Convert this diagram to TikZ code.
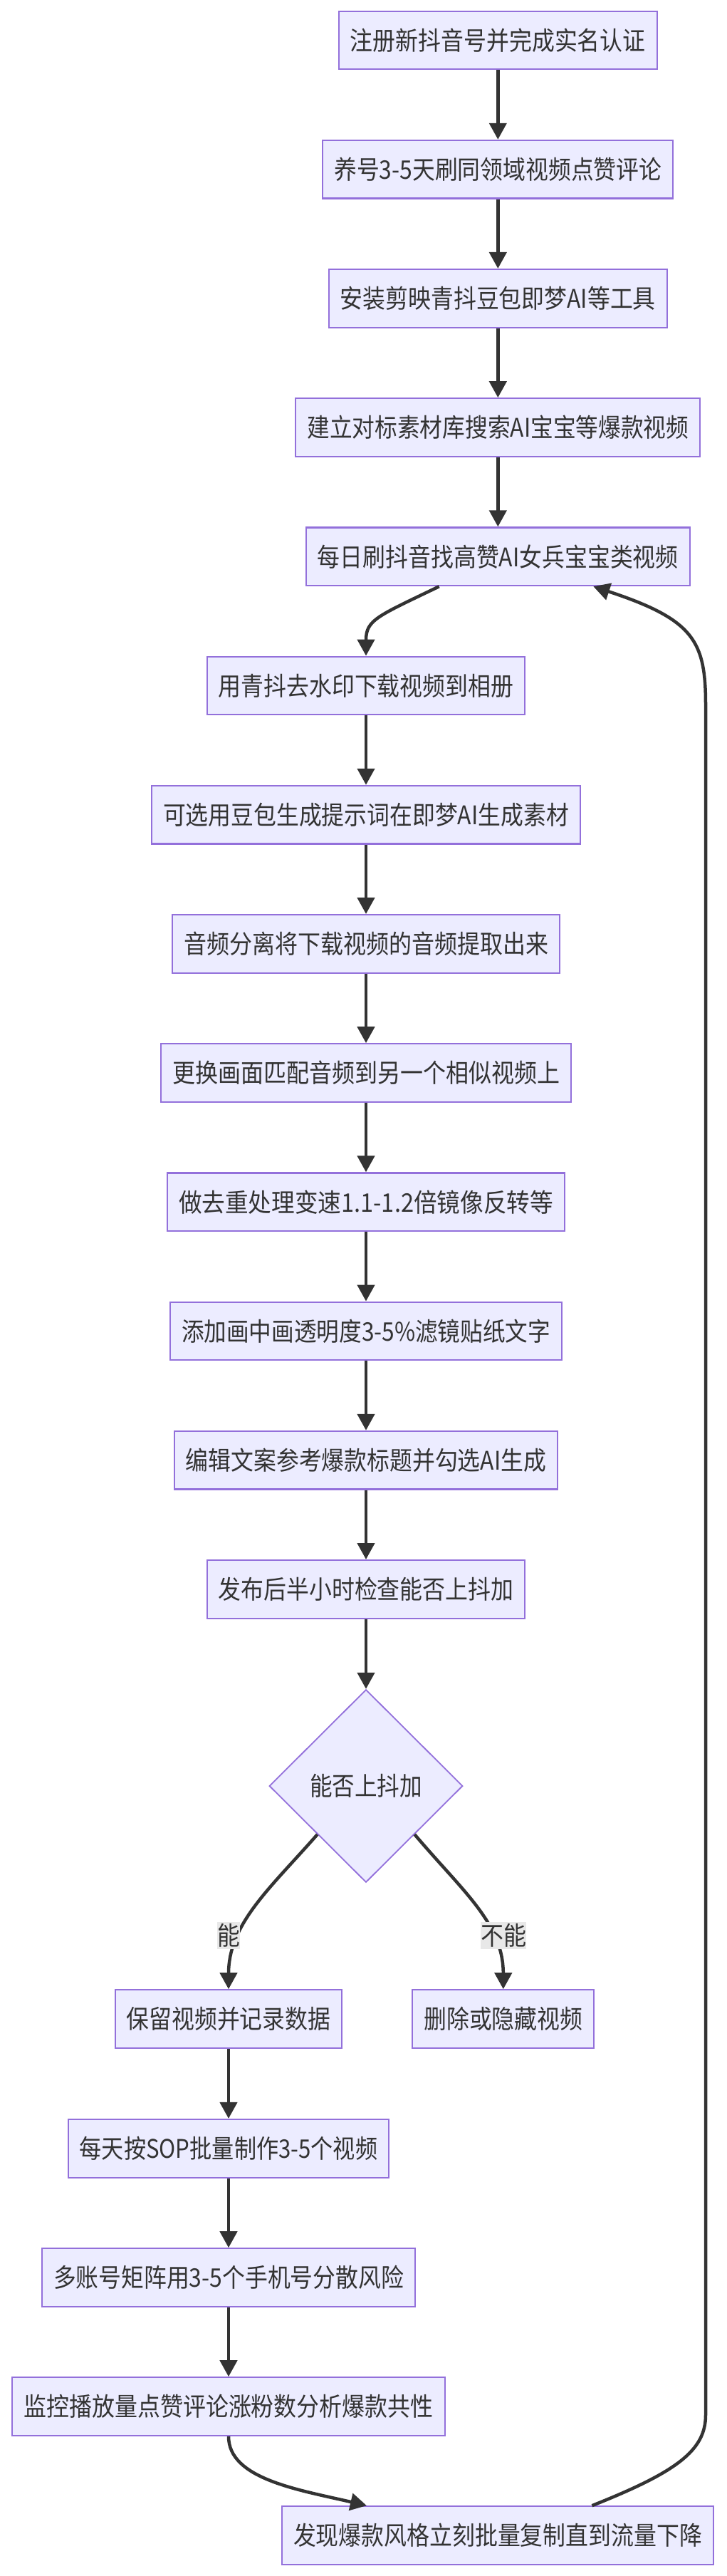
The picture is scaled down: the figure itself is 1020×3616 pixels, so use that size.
\documentclass[tikz,border=0pt]{standalone}
\usepackage{fontspec}
\setmainfont{Noto Sans CJK SC}
\usepackage{graphicx}
\usetikzlibrary{arrows.meta,shapes.geometric,calc}
\definecolor{boxfill}{HTML}{ECECFF}
\definecolor{bord}{HTML}{9370DB}
\definecolor{ln}{HTML}{333333}
\definecolor{txt}{HTML}{333333}
\definecolor{lblbg}{HTML}{E8E8E8}
\newsavebox\fitbox
\newlength\fitl
\newlength\fitm
\newcommand\fitw[2]{\setlength\fitl{#1}\sbox\fitbox{#2}\setlength\fitm{\wd\fitbox}\ifdim\fitm>\fitl\pgfmathsetmacro\fitr{\fitl/\fitm}\scalebox{\fitr}[1]{\usebox\fitbox}\else\usebox\fitbox\fi}
\tikzset{
  box/.style={draw=bord, fill=boxfill, line width=2.25pt, minimum height=81.6pt, inner sep=0pt, text=txt, font=\fontsize{36pt}{43pt}\selectfont},
  dia/.style={diamond, draw=bord, fill=boxfill, line width=1.8pt, inner sep=0pt, text=txt, font=\fontsize{36pt}{43pt}\selectfont},
  lbl/.style={fill=lblbg, inner sep=0pt, minimum height=37.7pt, text=txt, font=\fontsize{36pt}{43pt}\selectfont},
  edge/.style={draw=ln, line width=4.5pt, -{Triangle[length=23pt,width=24pt]}}
}
\newcommand\bx[5]{\node[box,minimum width=#4pt] (#1) at (#2,#3) {\fitw{\dimexpr#4pt-32pt\relax}{#5}};}
\begin{document}
\begin{tikzpicture}[x=1pt,y=-1pt]
\useasboundingbox (0,0) rectangle (1020,3616);
\fill[white] (0,0) rectangle (1020,3616);
\bx{n1}{699.3}{56.5}{446.7}{注册新抖音号并完成实名认证}
\bx{n2}{699.3}{237.7}{492}{养号3-5天刷同领域视频点赞评论}
\bx{n3}{699.3}{418.9}{475}{安装剪映青抖豆包即梦AI等工具}
\bx{n4}{699.3}{600.1}{568}{建立对标素材库搜索AI宝宝等爆款视频}
\bx{n5}{699.3}{781.3}{538.7}{每日刷抖音找高赞AI女兵宝宝类视频}
\bx{n6}{514}{962.5}{446.6}{用青抖去水印下载视频到相册}
\bx{n7}{514}{1143.7}{602}{可选用豆包生成提示词在即梦AI生成素材}
\bx{n8}{514}{1324.9}{544}{音频分离将下载视频的音频提取出来}
\bx{n9}{514}{1506.1}{576}{更换画面匹配音频到另一个相似视频上}
\bx{n10}{514}{1687.3}{558}{做去重处理变速1.1-1.2倍镜像反转等}
\bx{n11}{514}{1868.5}{550}{添加画中画透明度3-5\%滤镜贴纸文字}
\bx{n12}{514}{2049.7}{538.4}{编辑文案参考爆款标题并勾选AI生成}
\bx{n13}{514}{2230.9}{446.6}{发布后半小时检查能否上抖加}
\node[dia, minimum width=271.7pt, minimum height=270.6pt] (dia) at (514,2507) {\fitw{158pt}{能否上抖加}};
\bx{n15a}{321}{2834.1}{318.6}{保留视频并记录数据}
\bx{n15b}{706.8}{2834.1}{255}{删除或隐藏视频}
\bx{n16}{321}{3015.8}{450.4}{每天按SOP批量制作3-5个视频}
\bx{n17}{321}{3197.1}{524}{多账号矩阵用3-5个手机号分散风险}
\bx{n18}{321}{3378.1}{607.3}{监控播放量点赞评论涨粉数分析爆款共性}
\bx{n19}{699}{3559.1}{606}{发现爆款风格立刻批量复制直到流量下降}
\draw[edge] (n1.south) -- (n2.north);
\draw[edge] (n2.south) -- (n3.north);
\draw[edge] (n3.south) -- (n4.north);
\draw[edge] (n4.south) -- (n5.north);
\draw[edge] ([xshift=-82.6pt]n5.south) .. controls (530,865) and (514,870) .. (n6.north);
\draw[edge] (n6.south) -- (n7.north);
\draw[edge] (n7.south) -- (n8.north);
\draw[edge] (n8.south) -- (n9.north);
\draw[edge] (n9.south) -- (n10.north);
\draw[edge] (n10.south) -- (n11.north);
\draw[edge] (n11.south) -- (n12.north);
\draw[edge] (n12.south) -- (n13.north);
\draw[edge] (n13.south) -- (dia.north);
\draw[edge] (dia.south west) .. controls (380,2650) and (321,2700) .. (n15a.north);
\draw[edge] (dia.south east) .. controls (650,2655) and (706.8,2700) .. (n15b.north);
\draw[edge] (n15a.south) -- (n16.north);
\draw[edge] (n16.south) -- (n17.north);
\draw[edge] (n17.south) -- (n18.north);
\draw[edge] (n18.south) .. controls (321,3480) and (420,3495) .. ([xshift=-184pt]n19.north);
\draw[edge] ([xshift=132.5pt]n19.north) .. controls (950,3470) and (991,3440) .. (991,3390) -- (991,990) .. controls (991,900) and (975,870) .. ([xshift=134pt]n5.south);
\node[lbl, minimum width=31.7pt] (l1) at (321,2717) {\fitw{31.7pt}{能}};
\node[lbl, minimum width=64pt] (l2) at (707,2717) {\fitw{64pt}{不能}};
\end{tikzpicture}
\end{document}
